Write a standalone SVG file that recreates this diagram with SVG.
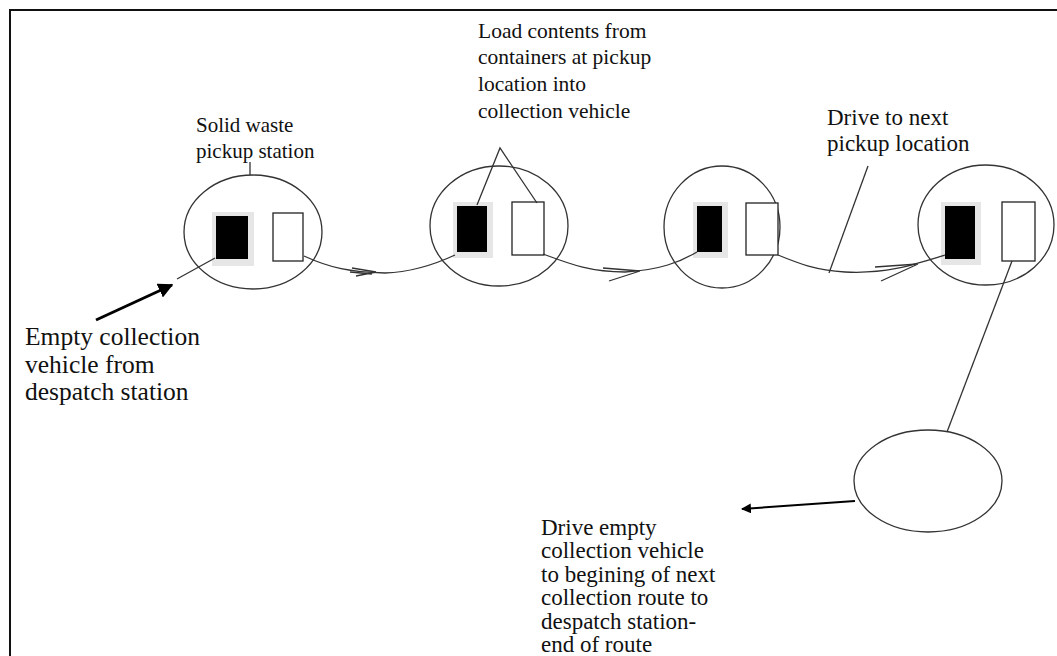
<svg xmlns="http://www.w3.org/2000/svg" width="1057" height="656" viewBox="0 0 1057 656">
<defs>
<style>
.t{font-family:"Liberation Serif","Times New Roman",serif;font-size:21px;fill:#111}
.big{font-size:25.5px}
.btm{font-size:23px}
.mid{font-size:23px}
.e{fill:none;stroke:#333;stroke-width:1.3}
.blk{fill:#000}
.sh{fill:#e6e6e6}
.wr{fill:#fff;stroke:#222;stroke-width:1.3}
.ln{fill:none;stroke:#333;stroke-width:1.3}
</style>
<marker id="ah" viewBox="0 0 10 10" refX="9" refY="5" markerWidth="5" markerHeight="5" orient="auto" markerUnits="strokeWidth">
<path d="M0,0 L10,5 L0,10 z" fill="#000"/>
</marker>
</defs>
<rect width="1057" height="656" fill="#fff"/>
<polyline points="10,656 10,10 1057,10" fill="none" stroke="#111" stroke-width="2"/>

<g id="station1">
<ellipse class="e" cx="253" cy="232" rx="69" ry="57"/>
<rect class="sh" x="212" y="212" width="42" height="54"/>
<rect class="blk" x="216" y="216" width="32" height="43"/>
<rect class="wr" x="273" y="213" width="30" height="48"/>
</g>
<g id="station2">
<ellipse class="e" cx="499" cy="226" rx="69" ry="60"/>
<rect class="sh" x="453" y="202" width="40" height="56"/>
<rect class="blk" x="457" y="206" width="30" height="46"/>
<rect class="wr" x="512" y="202" width="32" height="53"/>
</g>
<g id="station3">
<ellipse class="e" cx="722" cy="227" rx="58" ry="61"/>
<rect class="sh" x="693" y="202" width="35" height="56"/>
<rect class="blk" x="697" y="206" width="25" height="46"/>
<rect class="wr" x="746" y="203" width="32" height="52"/>
</g>
<g id="station4">
<ellipse class="e" cx="986" cy="225" rx="68" ry="60"/>
<rect class="sh" x="941" y="202" width="40" height="63"/>
<rect class="blk" x="945" y="206" width="30" height="53"/>
<rect class="wr" x="1002" y="202" width="33" height="59"/>
</g>
<g id="end">
<ellipse class="e" cx="928" cy="481" rx="74" ry="51"/>
</g>

<g id="connectors">
<line class="ln" x1="250" y1="175" x2="250" y2="162"/>
<polyline class="ln" points="477,205 500,148 537,203"/>
<line class="ln" x1="868" y1="166" x2="829" y2="273"/>
<line class="ln" x1="1012" y1="261" x2="947" y2="432"/>
<line x1="96" y1="320" x2="172" y2="285" stroke="#000" stroke-width="3" marker-end="url(#ah)"/>
<line class="ln" x1="177" y1="279" x2="215" y2="258"/>
<line x1="855" y1="501" x2="742" y2="509" stroke="#000" stroke-width="2" marker-end="url(#ah)"/>
<path class="ln" d="M304,256 C330,268 350,272 385,273 C415,272 440,262 455,255"/>
<path class="ln" d="M352,268 L376,272 M356,276 L376,272 M350,272 L372,274"/>
<path class="ln" d="M543,254 C570,264 590,272 625,272 C660,270 680,262 697,252"/>
<path class="ln" d="M603,268 L640,271 M609,281 L640,271"/>
<path class="ln" d="M778,255 C800,264 815,270 845,272 C885,274 910,266 945,255"/>
<path class="ln" d="M875,267 L918,264 M881,281 L918,264"/>
</g>

<g id="labels">
<text class="t" x="196" y="132">Solid waste</text>
<text class="t" x="196" y="158">pickup station</text>
<text class="t" x="478" y="38" style="font-size:21.5px">Load contents from</text>
<text class="t" x="478" y="64" style="font-size:21.5px">containers at pickup</text>
<text class="t" x="478" y="91" style="font-size:21.5px">location into</text>
<text class="t" x="478" y="118" style="font-size:21.5px">collection vehicle</text>
<text class="t mid" x="827" y="125">Drive to next</text>
<text class="t mid" x="827" y="151">pickup location</text>
<text class="t big" x="25" y="345">Empty collection</text>
<text class="t big" x="25" y="373">vehicle from</text>
<text class="t big" x="25" y="400">despatch station</text>
<text class="t btm" x="541" y="535">Drive empty</text>
<text class="t btm" x="541" y="558.4">collection vehicle</text>
<text class="t btm" x="541" y="581.8">to begining of next</text>
<text class="t btm" x="541" y="605.2">collection route to</text>
<text class="t btm" x="541" y="628.6">despatch station-</text>
<text class="t btm" x="541" y="652">end of route</text>
</g>
</svg>
